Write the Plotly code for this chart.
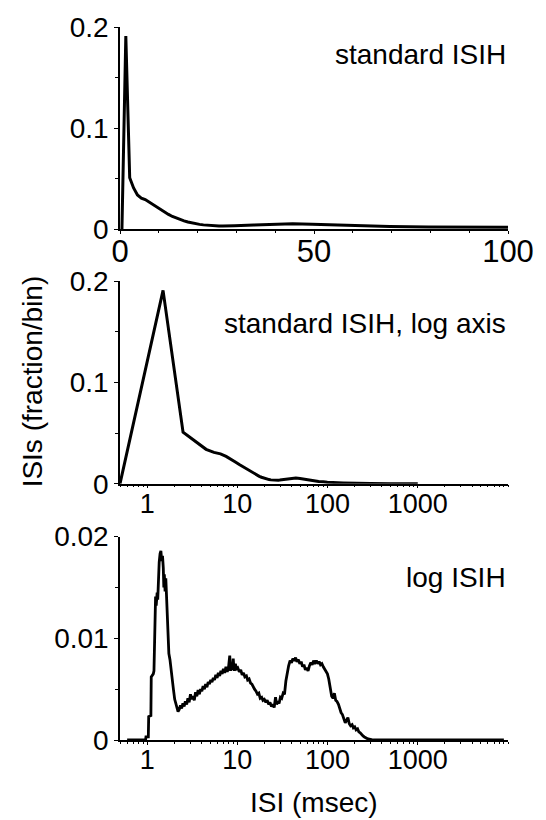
import plotly.graph_objects as go

# ---- data: standard ISIH (1 ms bins, bin centres in ms) ----
isi_bins = [0.5, 1.5, 2.5, 3.5, 4.5, 5.5, 6.5, 7.5, 8.5, 9.5,
            10.5, 11.5, 12.5, 13.5, 14.5, 15.5, 16.5, 17.5, 18.5, 19.5,
            20.5, 21.5, 22.5, 23.5, 24.5, 25.5, 26.5, 27.5, 28.5, 29.5,
            34.5, 39.5, 44.5, 49.5, 54.5, 59.5, 64.5, 69.5, 79.5, 89.5,
            99.5, 149.5, 199.5, 299.5, 499.5, 999.5]
isi_frac = [0.0, 0.191, 0.051, 0.041, 0.034, 0.031, 0.0295, 0.027, 0.0245, 0.0215,
            0.019, 0.0168, 0.0148, 0.0128, 0.0112, 0.0097, 0.0085, 0.0073, 0.0064, 0.0056,
            0.0050, 0.0045, 0.0041, 0.0038, 0.0036, 0.0035, 0.0034, 0.0034, 0.0035, 0.0036,
            0.0043, 0.0052, 0.0056, 0.0052, 0.0045, 0.0038, 0.0033, 0.0029, 0.0023, 0.0019,
            0.0015, 0.0008, 0.0004, 0.0001, 0.0, 0.0]

# ---- data: log ISIH (log-spaced bins) ----
log_isi = [0.6, 0.96, 0.97, 1.03, 1.04, 1.1, 1.11, 1.17, 1.19, 1.22,
           1.24, 1.26, 1.29, 1.31, 1.33, 1.36, 1.39, 1.42, 1.45, 1.48,
           1.51, 1.53, 1.55, 1.58, 1.61, 1.64, 1.67, 1.70, 1.74, 1.79,
           1.84, 1.90, 1.96, 2.02, 2.08, 2.14, 2.2, 2.27, 2.34, 2.41,
           2.49, 2.57, 2.65, 2.74, 2.83, 2.92, 3.02, 3.12, 3.22, 3.33,
           3.44, 3.55, 3.67, 3.79, 3.91, 4.04, 4.17, 4.31, 4.45, 4.6,
           4.75, 4.9, 5.07, 5.23, 5.41, 5.58, 5.77, 5.96, 6.15, 6.36,
           6.57, 6.78, 7.0, 7.24, 7.47, 7.72, 7.97, 8.23, 8.4, 8.6,
           8.8, 9.0, 9.2, 9.5, 9.8, 10.1, 10.5, 10.9, 11.3, 11.7,
           12.1, 12.6, 13.0, 13.5, 14.0, 14.5, 15.0, 15.5, 16.1, 16.7,
           17.3, 17.9, 18.6, 19.2, 19.9, 20.7, 21.4, 22.2, 23.0, 23.9,
           24.7, 25.6, 26.5, 27.2, 28.0, 29.0, 30.0, 31.0, 32.2, 33.3,
           34.5, 35.8, 37.0, 38.4, 39.8, 41.2, 42.7, 44.2, 45.8, 47.5,
           49.2, 51.0, 52.8, 54.7, 56.7, 58.7, 60.8, 63.0, 65.3, 67.6,
           70.0, 72.5, 75.1, 77.8, 80.6, 83.5, 86.5, 89.6, 92.8, 96.1,
           99.6, 103, 107, 111, 115, 119, 123, 127, 132, 136,
           141, 146, 151, 157, 162, 168, 174, 180, 187, 193,
           200, 207, 215, 222, 230, 238, 247, 256, 265, 280,
           300, 320, 9000]
log_frac = [0.0, 0.0, 0.0003, 0.0003, 0.0023, 0.0024, 0.0062, 0.0065, 0.0068, 0.0125,
            0.0141, 0.0132, 0.0145, 0.0138, 0.0163, 0.0175, 0.0183, 0.0186, 0.0176, 0.0181,
            0.0169, 0.0150, 0.0163, 0.0146, 0.0159, 0.0140, 0.0118, 0.0098, 0.0085, 0.0079,
            0.0068, 0.0060, 0.0049, 0.0040, 0.0035, 0.0031, 0.0028, 0.0030, 0.0034, 0.0031,
            0.0036, 0.0033, 0.0038, 0.0035, 0.0041, 0.0037, 0.0045, 0.0040, 0.0043, 0.0039,
            0.0047, 0.0043, 0.0049, 0.0045, 0.0050, 0.0048, 0.0053, 0.0050, 0.0055, 0.0052,
            0.0057, 0.0055, 0.0059, 0.0057, 0.0061, 0.0059, 0.0064, 0.0061, 0.0066, 0.0063,
            0.0068, 0.0065, 0.0070, 0.0066, 0.0072, 0.0067, 0.0071, 0.0083, 0.0068, 0.0074,
            0.0069, 0.0080, 0.0068, 0.0075, 0.0070, 0.0071, 0.0067, 0.0069, 0.0064, 0.0066,
            0.0062, 0.0063, 0.0059, 0.0060, 0.0056, 0.0055, 0.0052, 0.0050, 0.0048, 0.0045,
            0.0046, 0.0041, 0.0042, 0.0039, 0.0040, 0.0037, 0.0039, 0.0035, 0.0037, 0.0033,
            0.0035, 0.0032, 0.0042, 0.0035, 0.0038, 0.0036, 0.0042, 0.0041, 0.0046, 0.0045,
            0.0058, 0.0068, 0.0073, 0.0078, 0.0076, 0.0080, 0.0078, 0.0081, 0.0077, 0.0079,
            0.0075, 0.0077, 0.0072, 0.0074, 0.0069, 0.0071, 0.0068, 0.0073, 0.0076, 0.0074,
            0.0078, 0.0076, 0.0078, 0.0075, 0.0077, 0.0074, 0.0075, 0.0072, 0.0070, 0.0068,
            0.0065, 0.0060, 0.0052, 0.0043, 0.0041, 0.0046, 0.0039, 0.0038, 0.0035, 0.0031,
            0.0027, 0.0025, 0.0022, 0.0017, 0.0019, 0.0022, 0.0016, 0.0014, 0.0015, 0.0012,
            0.0013, 0.0010, 0.0011, 0.0008, 0.0007, 0.0005, 0.0004, 0.0003, 0.0002, 0.0001,
            0.00005, 0.0, 0.0]

log_tick_vals = [1, 10, 100, 1000]
log_tick_text = ["1", "10", "100", "1000"]
lin_tick_vals = [0, 50, 100]

FONT = "Liberation Sans, Arial, Helvetica, sans-serif"
BLACK = "#000000"

fig = go.Figure()
fig.add_trace(go.Scatter(x=isi_bins, y=isi_frac, mode="lines",
                         line=dict(color=BLACK, width=3), xaxis="x", yaxis="y",
                         showlegend=False, hoverinfo="skip"))
fig.add_trace(go.Scatter(x=isi_bins, y=isi_frac, mode="lines",
                         line=dict(color=BLACK, width=3), xaxis="x2", yaxis="y2",
                         showlegend=False, hoverinfo="skip"))
fig.add_trace(go.Scatter(x=log_isi, y=log_frac, mode="lines",
                         line=dict(color=BLACK, width=2.8), xaxis="x3", yaxis="y3",
                         showlegend=False, hoverinfo="skip"))

H = 820 - 25 - 80
def dom(top_px, bot_px):
    return [(740 - bot_px) / H, (740 - top_px) / H]

axis_common = dict(showgrid=False, zeroline=False, showline=True, linecolor=BLACK,
                   linewidth=1.5, ticks="outside", tickcolor=BLACK, tickwidth=1.3,
                   ticklen=4, tickfont=dict(family=FONT, size=28, color=BLACK))

yaxis_common = dict(axis_common, ticklabelstandoff=0)
xlog_common = dict(axis_common, domain=[0, 1], type="log", range=[-0.30103, 4],
                   tickvals=log_tick_vals, ticktext=log_tick_text, ticklen=3,
                   ticklabelstandoff=-8,
                   tickfont=dict(family=FONT, size=27, color=BLACK),
                   minor=dict(ticks="outside", ticklen=2, dtick="D1", tickcolor=BLACK))

fig.update_layout(
    width=546, height=820,
    margin=dict(l=120, r=32, t=25, b=80),
    paper_bgcolor="white", plot_bgcolor="white",
    xaxis=dict(axis_common, domain=[0, 1], anchor="y", range=[0, 100],
               tickvals=lin_tick_vals, tickfont=dict(family=FONT, size=31, color=BLACK),
               ticklen=3, ticklabelstandoff=-9,
               minor=dict(ticks="outside", ticklen=2, dtick=10, tickcolor=BLACK)),
    yaxis=dict(yaxis_common, domain=dom(25, 228), anchor="x", range=[0, 0.2], dtick=0.1,
               minor=dict(ticks="outside", ticklen=3, dtick=0.05, tickcolor=BLACK)),
    xaxis2=dict(xlog_common, anchor="y2"),
    yaxis2=dict(yaxis_common, domain=dom(280, 483), anchor="x2", range=[0, 0.2], dtick=0.1,
                minor=dict(ticks="outside", ticklen=3, dtick=0.05, tickcolor=BLACK)),
    xaxis3=dict(xlog_common, anchor="y3"),
    yaxis3=dict(yaxis_common, domain=dom(536, 740), anchor="x3", range=[0, 0.02], dtick=0.01,
                minor=dict(ticks="outside", ticklen=3, dtick=0.005, tickcolor=BLACK)),
)

ann_font = dict(family=FONT, size=28, color=BLACK)
annotations = [
    dict(text="standard ISIH", x=1, xref="paper", xanchor="right",
         y=(740 - 52.5) / H, yref="paper", yanchor="middle"),
    dict(text="standard ISIH, log axis", x=1, xref="paper", xanchor="right",
         y=(740 - 322.5) / H, yref="paper", yanchor="middle"),
    dict(text="log ISIH", x=1, xref="paper", xanchor="right",
         y=(740 - 577) / H, yref="paper", yanchor="middle"),
    dict(text="ISI (msec)", x=(317 - 120) / 394, xref="paper", xanchor="center",
         y=(740 - 803) / H, yref="paper", yanchor="middle"),
    dict(text="ISIs (fraction/bin)", x=(31 - 120) / 394, xref="paper", xanchor="center",
         y=(740 - 380) / H, yref="paper", yanchor="middle", textangle=-90),
]
for a in annotations:
    a.update(showarrow=False, font=ann_font)
fig.update_layout(annotations=annotations)

fig.write_html("out.html")
